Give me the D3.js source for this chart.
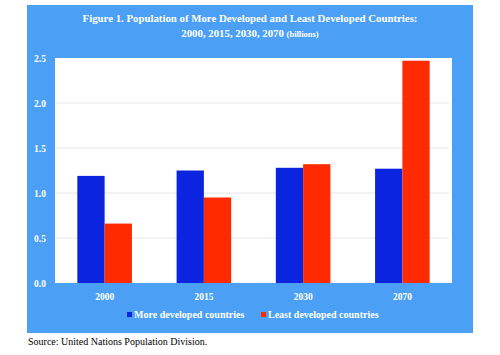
<!DOCTYPE html>
<html><head><meta charset="utf-8">
<script src="https://cdn.jsdelivr.net/npm/d3@7/dist/d3.min.js"></script>
<style>body{margin:0;background:#fff}svg{display:block}</style>
</head><body>
<script>
const categories = ["2000", "2015", "2030", "2070"];
const seriesNames = ["More developed countries", "Least developed countries"];
const moreDeveloped = [1.19, 1.25, 1.28, 1.27];
const leastDeveloped = [0.66, 0.95, 1.32, 2.47];
const yTicks = [0, 0.5, 1.0, 1.5, 2.0, 2.5];

const W = 500, H = 355;
const colors = ["#0a24e0", "#ff2a00"];
const panelColor = "#4ba0f6";
const font = "'Liberation Serif','Times New Roman',serif";

const svg = d3.select("body").append("svg").attr("width", W).attr("height", H);
svg.append("rect").attr("x", 27).attr("y", 5).attr("width", 446).attr("height", 328).attr("fill", panelColor);

const plot = {left: 55, right: 452, top: 58, bottom: 283};
svg.append("rect").attr("x", plot.left).attr("y", plot.top)
  .attr("width", plot.right - plot.left).attr("height", plot.bottom - plot.top).attr("fill", "#fff");

const y = d3.scaleLinear().domain([0, 2.5]).range([plot.bottom, plot.top]);
const x = d3.scaleBand().domain(categories).range([plot.left, plot.right]).paddingInner(0.45).paddingOuter(0.225);
const xs = d3.scaleBand().domain(seriesNames).range([0, x.bandwidth()]);

// gridlines
svg.append("g").selectAll("line").data(yTicks.filter(d => d > 0 && d < 2.5)).join("line")
  .attr("x1", plot.left).attr("x2", plot.right - 3)
  .attr("y1", d => y(d)).attr("y2", d => y(d))
  .attr("stroke", "#e6e6e6").attr("stroke-width", 1);

const data = categories.map((c, i) => ({c, vals: [moreDeveloped[i], leastDeveloped[i]]}));
svg.append("g").selectAll("g").data(data).join("g")
  .attr("transform", d => `translate(${x(d.c)},0)`)
  .selectAll("rect").data(d => d.vals.map((v, j) => ({v, s: seriesNames[j], j}))).join("rect")
  .attr("x", d => xs(d.s)).attr("width", xs.bandwidth())
  .attr("y", d => y(d.v)).attr("height", d => y(0) - y(d.v))
  .attr("fill", d => colors[d.j]);

// y axis
const yAxis = d3.axisLeft(y).tickValues(yTicks).tickFormat(d3.format(".1f")).tickSize(0).tickPadding(0);
const ya = svg.append("g").attr("transform", `translate(47,0)`).call(yAxis);
ya.select(".domain").remove();
ya.selectAll("text").attr("fill", "#fff").attr("font-family", font).attr("font-weight", "bold").attr("font-size", 9.5).attr("text-anchor", "middle").attr("dy", "0.35em").attr("x", -7);

// x axis
const xAxis = d3.axisBottom(x).tickSize(0).tickPadding(0);
const xa = svg.append("g").attr("transform", `translate(0,${plot.bottom})`).call(xAxis);
xa.select(".domain").remove();
xa.selectAll("text").attr("fill", "#fff").attr("font-family", font).attr("font-weight", "bold").attr("font-size", 9.5).attr("dy", 0).attr("y", 17);

// title
const t = svg.append("text").attr("x", 250).attr("text-anchor", "middle").attr("fill", "#fff")
  .attr("font-family", font).attr("font-weight", "bold");
t.append("tspan").attr("x", 250).attr("y", 22).attr("font-size", 10.8).text("Figure 1. Population of More Developed and Least Developed Countries:");
const t2 = t.append("tspan").attr("x", 250).attr("y", 37).attr("font-size", 10.8);
t2.append("tspan").text("2000, 2015, 2030, 2070 ");
t2.append("tspan").attr("font-size", 8.5).text("(billions)");

// legend
const legendX = [127, 261];
const lg = svg.append("g").selectAll("g").data(seriesNames).join("g")
  .attr("transform", (d, i) => `translate(${legendX[i]},318)`);
lg.append("rect").attr("x", 0).attr("y", -6).attr("width", 5).attr("height", 5).attr("fill", (d, i) => colors[i]);
lg.append("text").attr("x", 7).attr("y", 0).attr("fill", "#fff").attr("font-family", font)
  .attr("font-weight", "bold").attr("font-size", 10).text(d => d);

// source
svg.append("text").attr("x", 28).attr("y", 345).attr("fill", "#000").attr("font-family", font)
  .attr("font-size", 10).text("Source: United Nations Population Division.");
</script>
</body></html>
